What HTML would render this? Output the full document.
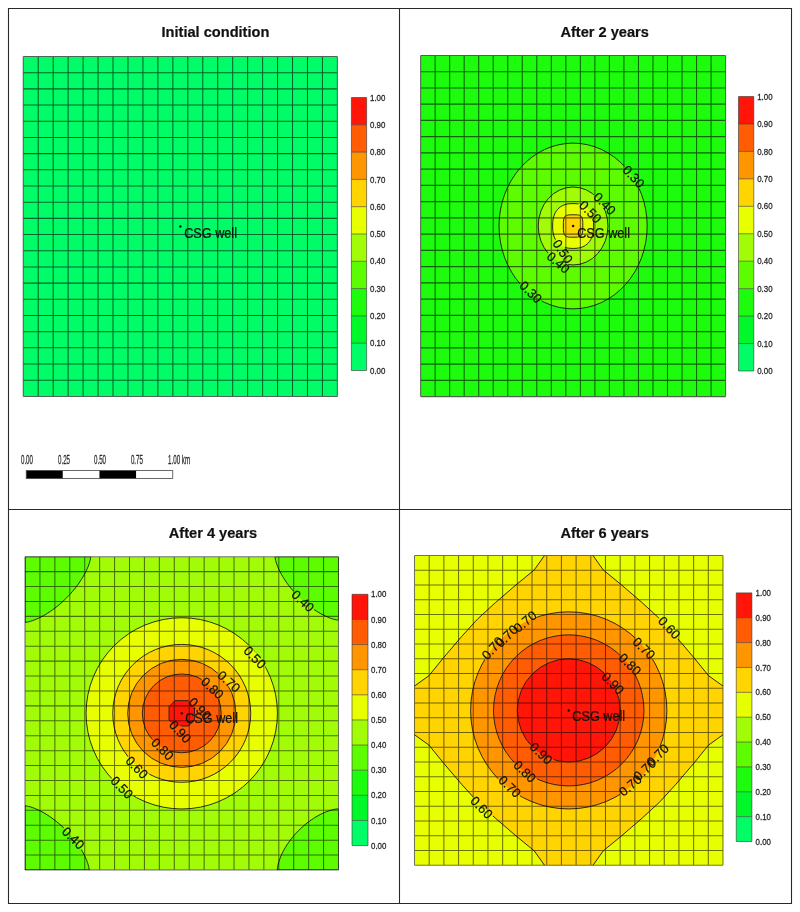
<!DOCTYPE html><html><head><meta charset="utf-8"><style>html,body{margin:0;padding:0;background:#fff;width:800px;height:912px;overflow:hidden}svg{display:block;will-change:transform}text{font-family:"Liberation Sans",sans-serif}</style></head><body>
<svg width="800" height="912" viewBox="0 0 800 912">
<rect width="800" height="912" fill="#fff"/>
<clipPath id="cla"><rect x="23.25" y="56.50" width="314.15" height="339.90"/></clipPath>
<mask id="mka" maskUnits="userSpaceOnUse" x="0" y="0" width="800" height="912"><rect x="0" y="0" width="800" height="912" fill="#fff"/></mask>
<g clip-path="url(#cla)">
<rect x="23.25" y="56.50" width="314.15" height="339.90" fill="#00FC66"/>
<g mask="url(#mka)" fill="none" stroke="#1a1a1a" stroke-width="1" stroke-opacity="0.9">
</g></g>
<path d="M23.25 56.50V396.40M38.21 56.50V396.40M53.17 56.50V396.40M68.13 56.50V396.40M83.09 56.50V396.40M98.05 56.50V396.40M113.01 56.50V396.40M127.97 56.50V396.40M142.93 56.50V396.40M157.89 56.50V396.40M172.85 56.50V396.40M187.80 56.50V396.40M202.76 56.50V396.40M217.72 56.50V396.40M232.68 56.50V396.40M247.64 56.50V396.40M262.60 56.50V396.40M277.56 56.50V396.40M292.52 56.50V396.40M307.48 56.50V396.40M322.44 56.50V396.40M337.40 56.50V396.40M23.25 56.50H337.40M23.25 72.69H337.40M23.25 88.87H337.40M23.25 105.06H337.40M23.25 121.24H337.40M23.25 137.43H337.40M23.25 153.61H337.40M23.25 169.80H337.40M23.25 185.99H337.40M23.25 202.17H337.40M23.25 218.36H337.40M23.25 234.54H337.40M23.25 250.73H337.40M23.25 266.91H337.40M23.25 283.10H337.40M23.25 299.29H337.40M23.25 315.47H337.40M23.25 331.66H337.40M23.25 347.84H337.40M23.25 364.03H337.40M23.25 380.21H337.40M23.25 396.40H337.40" stroke="#000" stroke-width="1.05" stroke-opacity="0.6" fill="none"/>
<circle cx="180.32" cy="226.45" r="1.25" fill="#111"/>
<text transform="translate(184.20 237.60) scale(0.88 1)" x="0" y="0" font-size="14.4" fill="#111" stroke="#111" stroke-width="0.2">CSG well</text>
<rect x="351.40" y="343.20" width="15.20" height="27.30" fill="#00FC66"/>
<rect x="351.40" y="315.90" width="15.20" height="27.30" fill="#00F82A"/>
<rect x="351.40" y="288.60" width="15.20" height="27.30" fill="#1CFC0C"/>
<rect x="351.40" y="261.30" width="15.20" height="27.30" fill="#5EFC00"/>
<rect x="351.40" y="234.00" width="15.20" height="27.30" fill="#A2FC08"/>
<rect x="351.40" y="206.70" width="15.20" height="27.30" fill="#E8FF00"/>
<rect x="351.40" y="179.40" width="15.20" height="27.30" fill="#FFD400"/>
<rect x="351.40" y="152.10" width="15.20" height="27.30" fill="#FF9600"/>
<rect x="351.40" y="124.80" width="15.20" height="27.30" fill="#FF5C04"/>
<rect x="351.40" y="97.50" width="15.20" height="27.30" fill="#FF1608"/>
<path d="M351.40 97.50H366.60M351.40 124.80H366.60M351.40 152.10H366.60M351.40 179.40H366.60M351.40 206.70H366.60M351.40 234.00H366.60M351.40 261.30H366.60M351.40 288.60H366.60M351.40 315.90H366.60M351.40 343.20H366.60M351.40 370.50H366.60M351.40 97.50V370.50M366.60 97.50V370.50" stroke="#333" stroke-width="0.9" fill="none" stroke-opacity="0.65"/>
<text transform="translate(370.00 100.60) scale(0.92 1)" x="0" y="0" font-size="8.6" fill="#262626" stroke="#262626" stroke-width="0.25">1.00</text>
<text transform="translate(370.00 127.90) scale(0.92 1)" x="0" y="0" font-size="8.6" fill="#262626" stroke="#262626" stroke-width="0.25">0.90</text>
<text transform="translate(370.00 155.20) scale(0.92 1)" x="0" y="0" font-size="8.6" fill="#262626" stroke="#262626" stroke-width="0.25">0.80</text>
<text transform="translate(370.00 182.50) scale(0.92 1)" x="0" y="0" font-size="8.6" fill="#262626" stroke="#262626" stroke-width="0.25">0.70</text>
<text transform="translate(370.00 209.80) scale(0.92 1)" x="0" y="0" font-size="8.6" fill="#262626" stroke="#262626" stroke-width="0.25">0.60</text>
<text transform="translate(370.00 237.10) scale(0.92 1)" x="0" y="0" font-size="8.6" fill="#262626" stroke="#262626" stroke-width="0.25">0.50</text>
<text transform="translate(370.00 264.40) scale(0.92 1)" x="0" y="0" font-size="8.6" fill="#262626" stroke="#262626" stroke-width="0.25">0.40</text>
<text transform="translate(370.00 291.70) scale(0.92 1)" x="0" y="0" font-size="8.6" fill="#262626" stroke="#262626" stroke-width="0.25">0.30</text>
<text transform="translate(370.00 319.00) scale(0.92 1)" x="0" y="0" font-size="8.6" fill="#262626" stroke="#262626" stroke-width="0.25">0.20</text>
<text transform="translate(370.00 346.30) scale(0.92 1)" x="0" y="0" font-size="8.6" fill="#262626" stroke="#262626" stroke-width="0.25">0.10</text>
<text transform="translate(370.00 373.60) scale(0.92 1)" x="0" y="0" font-size="8.6" fill="#262626" stroke="#262626" stroke-width="0.25">0.00</text>
<text x="215.45" y="36.90" font-size="14.6" font-weight="bold" text-anchor="middle" fill="#111" stroke="#111" stroke-width="0.2">Initial condition</text>
<rect x="26.25" y="470.6" width="36.6" height="7.9" fill="#000"/>
<rect x="62.85" y="470.6" width="36.6" height="7.9" fill="#fff"/>
<rect x="99.45" y="470.6" width="36.8" height="7.9" fill="#000"/>
<rect x="136.25" y="470.6" width="36.5" height="7.9" fill="#fff"/>
<rect x="26.25" y="470.6" width="146.5" height="7.9" fill="none" stroke="#444" stroke-width="0.8"/>
<text transform="translate(26.95 463.7) scale(0.49 1)" x="0" y="0" font-size="12.6" text-anchor="middle" fill="#2a2a2a" stroke="#2a2a2a" stroke-width="0.3">0.00</text>
<text transform="translate(64.0 463.7) scale(0.49 1)" x="0" y="0" font-size="12.6" text-anchor="middle" fill="#2a2a2a" stroke="#2a2a2a" stroke-width="0.3">0.25</text>
<text transform="translate(100.0 463.7) scale(0.49 1)" x="0" y="0" font-size="12.6" text-anchor="middle" fill="#2a2a2a" stroke="#2a2a2a" stroke-width="0.3">0.50</text>
<text transform="translate(136.9 463.7) scale(0.49 1)" x="0" y="0" font-size="12.6" text-anchor="middle" fill="#2a2a2a" stroke="#2a2a2a" stroke-width="0.3">0.75</text>
<text transform="translate(168.1 463.7) scale(0.49 1)" x="0" y="0" font-size="12.6" fill="#2a2a2a" stroke="#2a2a2a" stroke-width="0.3">1.00 km</text>
<clipPath id="clb"><rect x="420.60" y="55.40" width="305.00" height="341.20"/></clipPath>
<mask id="mkb" maskUnits="userSpaceOnUse" x="0" y="0" width="800" height="912"><rect x="0" y="0" width="800" height="912" fill="#fff"/><rect transform="translate(633.75 176.50) rotate(47)" x="-13.75" y="-4.03" width="27.50" height="8.06" fill="#000"/><rect transform="translate(604.80 203.50) rotate(45)" x="-13.75" y="-4.03" width="27.50" height="8.06" fill="#000"/><rect transform="translate(590.50 211.75) rotate(45)" x="-13.75" y="-4.03" width="27.50" height="8.06" fill="#000"/><rect transform="translate(562.90 251.40) rotate(57)" x="-13.75" y="-4.03" width="27.50" height="8.06" fill="#000"/><rect transform="translate(558.50 262.40) rotate(41)" x="-13.75" y="-4.03" width="27.50" height="8.06" fill="#000"/><rect transform="translate(530.80 291.90) rotate(44)" x="-13.75" y="-4.03" width="27.50" height="8.06" fill="#000"/></mask>
<g clip-path="url(#clb)">
<rect x="420.60" y="55.40" width="305.00" height="341.20" fill="#1CFC0C"/>
<ellipse cx="573.10" cy="226.00" rx="74.07" ry="82.86" fill="#5EFC00"/>
<ellipse cx="573.10" cy="226.00" rx="34.86" ry="38.99" fill="#A2FC08"/>
<polygon points="593.58,226.00 593.50,229.24 593.25,231.74 592.84,234.00 592.27,236.07 591.54,237.98 590.66,239.74 589.62,241.35 588.44,242.80 587.12,244.09 585.65,245.23 584.04,246.19 582.30,246.99 580.41,247.61 578.35,248.06 576.06,248.33 573.10,248.42 570.14,248.33 567.85,248.06 565.79,247.61 563.90,246.99 562.16,246.19 560.55,245.23 559.08,244.09 557.76,242.80 556.58,241.35 555.54,239.74 554.66,237.98 553.93,236.07 553.36,234.00 552.95,231.74 552.70,229.24 552.62,226.00 552.70,222.76 552.95,220.26 553.36,218.00 553.93,215.93 554.66,214.02 555.54,212.26 556.58,210.65 557.76,209.20 559.08,207.91 560.55,206.77 562.16,205.81 563.90,205.01 565.79,204.39 567.85,203.94 570.14,203.67 573.10,203.58 576.06,203.67 578.35,203.94 580.41,204.39 582.30,205.01 584.04,205.81 585.65,206.77 587.12,207.91 588.44,209.20 589.62,210.65 590.66,212.26 591.54,214.02 592.27,215.93 592.84,218.00 593.25,220.26 593.50,222.76" fill="#E8FF00"/>
<polygon points="582.83,226.00 582.81,229.51 582.74,230.95 582.62,232.04 582.45,232.94 582.24,233.70 581.97,234.36 581.66,234.93 581.28,235.43 580.85,235.86 580.35,236.22 579.78,236.53 579.12,236.78 578.34,236.97 577.40,237.10 576.15,237.18 573.10,237.21 570.05,237.18 568.80,237.10 567.86,236.97 567.08,236.78 566.42,236.53 565.85,236.22 565.35,235.86 564.92,235.43 564.54,234.93 564.23,234.36 563.96,233.70 563.75,232.94 563.58,232.04 563.46,230.95 563.39,229.51 563.37,226.00 563.39,222.49 563.46,221.05 563.58,219.96 563.75,219.06 563.96,218.30 564.23,217.64 564.54,217.07 564.92,216.57 565.35,216.14 565.85,215.78 566.42,215.47 567.08,215.22 567.86,215.03 568.80,214.90 570.05,214.82 573.10,214.79 576.15,214.82 577.40,214.90 578.34,215.03 579.12,215.22 579.78,215.47 580.35,215.78 580.85,216.14 581.28,216.57 581.66,217.07 581.97,217.64 582.24,218.30 582.45,219.06 582.62,219.96 582.74,221.05 582.81,222.49" fill="#FFD400"/>
<g mask="url(#mkb)" fill="none" stroke="#1a1a1a" stroke-width="1" stroke-opacity="0.9">
<ellipse cx="573.10" cy="226.00" rx="74.07" ry="82.86"/>
<ellipse cx="573.10" cy="226.00" rx="34.86" ry="38.99"/>
<polygon points="593.58,226.00 593.50,229.24 593.25,231.74 592.84,234.00 592.27,236.07 591.54,237.98 590.66,239.74 589.62,241.35 588.44,242.80 587.12,244.09 585.65,245.23 584.04,246.19 582.30,246.99 580.41,247.61 578.35,248.06 576.06,248.33 573.10,248.42 570.14,248.33 567.85,248.06 565.79,247.61 563.90,246.99 562.16,246.19 560.55,245.23 559.08,244.09 557.76,242.80 556.58,241.35 555.54,239.74 554.66,237.98 553.93,236.07 553.36,234.00 552.95,231.74 552.70,229.24 552.62,226.00 552.70,222.76 552.95,220.26 553.36,218.00 553.93,215.93 554.66,214.02 555.54,212.26 556.58,210.65 557.76,209.20 559.08,207.91 560.55,206.77 562.16,205.81 563.90,205.01 565.79,204.39 567.85,203.94 570.14,203.67 573.10,203.58 576.06,203.67 578.35,203.94 580.41,204.39 582.30,205.01 584.04,205.81 585.65,206.77 587.12,207.91 588.44,209.20 589.62,210.65 590.66,212.26 591.54,214.02 592.27,215.93 592.84,218.00 593.25,220.26 593.50,222.76"/>
<polygon points="582.83,226.00 582.81,229.51 582.74,230.95 582.62,232.04 582.45,232.94 582.24,233.70 581.97,234.36 581.66,234.93 581.28,235.43 580.85,235.86 580.35,236.22 579.78,236.53 579.12,236.78 578.34,236.97 577.40,237.10 576.15,237.18 573.10,237.21 570.05,237.18 568.80,237.10 567.86,236.97 567.08,236.78 566.42,236.53 565.85,236.22 565.35,235.86 564.92,235.43 564.54,234.93 564.23,234.36 563.96,233.70 563.75,232.94 563.58,232.04 563.46,230.95 563.39,229.51 563.37,226.00 563.39,222.49 563.46,221.05 563.58,219.96 563.75,219.06 563.96,218.30 564.23,217.64 564.54,217.07 564.92,216.57 565.35,216.14 565.85,215.78 566.42,215.47 567.08,215.22 567.86,215.03 568.80,214.90 570.05,214.82 573.10,214.79 576.15,214.82 577.40,214.90 578.34,215.03 579.12,215.22 579.78,215.47 580.35,215.78 580.85,216.14 581.28,216.57 581.66,217.07 581.97,217.64 582.24,218.30 582.45,219.06 582.62,219.96 582.74,221.05 582.81,222.49"/>
</g></g>
<path d="M420.60 55.40V396.60M435.12 55.40V396.60M449.65 55.40V396.60M464.17 55.40V396.60M478.70 55.40V396.60M493.22 55.40V396.60M507.74 55.40V396.60M522.27 55.40V396.60M536.79 55.40V396.60M551.31 55.40V396.60M565.84 55.40V396.60M580.36 55.40V396.60M594.89 55.40V396.60M609.41 55.40V396.60M623.93 55.40V396.60M638.46 55.40V396.60M652.98 55.40V396.60M667.50 55.40V396.60M682.03 55.40V396.60M696.55 55.40V396.60M711.08 55.40V396.60M725.60 55.40V396.60M420.60 55.40H725.60M420.60 71.65H725.60M420.60 87.90H725.60M420.60 104.14H725.60M420.60 120.39H725.60M420.60 136.64H725.60M420.60 152.89H725.60M420.60 169.13H725.60M420.60 185.38H725.60M420.60 201.63H725.60M420.60 217.88H725.60M420.60 234.12H725.60M420.60 250.37H725.60M420.60 266.62H725.60M420.60 282.87H725.60M420.60 299.11H725.60M420.60 315.36H725.60M420.60 331.61H725.60M420.60 347.86H725.60M420.60 364.10H725.60M420.60 380.35H725.60M420.60 396.60H725.60" stroke="#000" stroke-width="1.05" stroke-opacity="0.6" fill="none"/>
<text transform="translate(633.75 176.50) rotate(47)" x="0" y="4.68" font-size="13" text-anchor="middle" fill="#111" stroke="#111" stroke-width="0.2">0.30</text>
<text transform="translate(604.80 203.50) rotate(45)" x="0" y="4.68" font-size="13" text-anchor="middle" fill="#111" stroke="#111" stroke-width="0.2">0.40</text>
<text transform="translate(590.50 211.75) rotate(45)" x="0" y="4.68" font-size="13" text-anchor="middle" fill="#111" stroke="#111" stroke-width="0.2">0.50</text>
<text transform="translate(562.90 251.40) rotate(57)" x="0" y="4.68" font-size="13" text-anchor="middle" fill="#111" stroke="#111" stroke-width="0.2">0.50</text>
<text transform="translate(558.50 262.40) rotate(41)" x="0" y="4.68" font-size="13" text-anchor="middle" fill="#111" stroke="#111" stroke-width="0.2">0.40</text>
<text transform="translate(530.80 291.90) rotate(44)" x="0" y="4.68" font-size="13" text-anchor="middle" fill="#111" stroke="#111" stroke-width="0.2">0.30</text>
<circle cx="573.10" cy="226.00" r="1.25" fill="#111"/>
<text transform="translate(577.20 237.70) scale(0.88 1)" x="0" y="0" font-size="14.4" fill="#111" stroke="#111" stroke-width="0.2">CSG well</text>
<rect x="738.50" y="343.55" width="15.30" height="27.45" fill="#00FC66"/>
<rect x="738.50" y="316.10" width="15.30" height="27.45" fill="#00F82A"/>
<rect x="738.50" y="288.65" width="15.30" height="27.45" fill="#1CFC0C"/>
<rect x="738.50" y="261.20" width="15.30" height="27.45" fill="#5EFC00"/>
<rect x="738.50" y="233.75" width="15.30" height="27.45" fill="#A2FC08"/>
<rect x="738.50" y="206.30" width="15.30" height="27.45" fill="#E8FF00"/>
<rect x="738.50" y="178.85" width="15.30" height="27.45" fill="#FFD400"/>
<rect x="738.50" y="151.40" width="15.30" height="27.45" fill="#FF9600"/>
<rect x="738.50" y="123.95" width="15.30" height="27.45" fill="#FF5C04"/>
<rect x="738.50" y="96.50" width="15.30" height="27.45" fill="#FF1608"/>
<path d="M738.50 96.50H753.80M738.50 123.95H753.80M738.50 151.40H753.80M738.50 178.85H753.80M738.50 206.30H753.80M738.50 233.75H753.80M738.50 261.20H753.80M738.50 288.65H753.80M738.50 316.10H753.80M738.50 343.55H753.80M738.50 371.00H753.80M738.50 96.50V371.00M753.80 96.50V371.00" stroke="#333" stroke-width="0.9" fill="none" stroke-opacity="0.65"/>
<text transform="translate(757.20 99.60) scale(0.92 1)" x="0" y="0" font-size="8.6" fill="#262626" stroke="#262626" stroke-width="0.25">1.00</text>
<text transform="translate(757.20 127.05) scale(0.92 1)" x="0" y="0" font-size="8.6" fill="#262626" stroke="#262626" stroke-width="0.25">0.90</text>
<text transform="translate(757.20 154.50) scale(0.92 1)" x="0" y="0" font-size="8.6" fill="#262626" stroke="#262626" stroke-width="0.25">0.80</text>
<text transform="translate(757.20 181.95) scale(0.92 1)" x="0" y="0" font-size="8.6" fill="#262626" stroke="#262626" stroke-width="0.25">0.70</text>
<text transform="translate(757.20 209.40) scale(0.92 1)" x="0" y="0" font-size="8.6" fill="#262626" stroke="#262626" stroke-width="0.25">0.60</text>
<text transform="translate(757.20 236.85) scale(0.92 1)" x="0" y="0" font-size="8.6" fill="#262626" stroke="#262626" stroke-width="0.25">0.50</text>
<text transform="translate(757.20 264.30) scale(0.92 1)" x="0" y="0" font-size="8.6" fill="#262626" stroke="#262626" stroke-width="0.25">0.40</text>
<text transform="translate(757.20 291.75) scale(0.92 1)" x="0" y="0" font-size="8.6" fill="#262626" stroke="#262626" stroke-width="0.25">0.30</text>
<text transform="translate(757.20 319.20) scale(0.92 1)" x="0" y="0" font-size="8.6" fill="#262626" stroke="#262626" stroke-width="0.25">0.20</text>
<text transform="translate(757.20 346.65) scale(0.92 1)" x="0" y="0" font-size="8.6" fill="#262626" stroke="#262626" stroke-width="0.25">0.10</text>
<text transform="translate(757.20 374.10) scale(0.92 1)" x="0" y="0" font-size="8.6" fill="#262626" stroke="#262626" stroke-width="0.25">0.00</text>
<text x="604.70" y="36.90" font-size="14.6" font-weight="bold" text-anchor="middle" fill="#111" stroke="#111" stroke-width="0.2">After 2 years</text>
<clipPath id="clc"><rect x="25.00" y="556.70" width="313.50" height="313.30"/></clipPath>
<mask id="mkc" maskUnits="userSpaceOnUse" x="0" y="0" width="800" height="912"><rect x="0" y="0" width="800" height="912" fill="#fff"/><rect transform="translate(303.00 601.00) rotate(43)" x="-13.75" y="-4.03" width="27.50" height="8.06" fill="#000"/><rect transform="translate(255.00 657.40) rotate(46)" x="-13.75" y="-4.03" width="27.50" height="8.06" fill="#000"/><rect transform="translate(229.00 681.40) rotate(42)" x="-13.75" y="-4.03" width="27.50" height="8.06" fill="#000"/><rect transform="translate(212.50 688.00) rotate(43)" x="-13.75" y="-4.03" width="27.50" height="8.06" fill="#000"/><rect transform="translate(200.00 708.50) rotate(46)" x="-13.75" y="-4.03" width="27.50" height="8.06" fill="#000"/><rect transform="translate(180.25 731.50) rotate(47)" x="-13.75" y="-4.03" width="27.50" height="8.06" fill="#000"/><rect transform="translate(162.60 749.00) rotate(44)" x="-13.75" y="-4.03" width="27.50" height="8.06" fill="#000"/><rect transform="translate(137.00 767.40) rotate(46)" x="-13.75" y="-4.03" width="27.50" height="8.06" fill="#000"/><rect transform="translate(122.00 787.40) rotate(46)" x="-13.75" y="-4.03" width="27.50" height="8.06" fill="#000"/><rect transform="translate(73.40 838.00) rotate(44)" x="-13.75" y="-4.03" width="27.50" height="8.06" fill="#000"/></mask>
<g clip-path="url(#clc)">
<rect x="25.00" y="556.70" width="313.50" height="313.30" fill="#A2FC08"/>
<polygon points="25.00,556.70 90.69,556.70 90.62,557.58 90.42,558.90 90.08,560.48 89.61,562.23 89.01,564.13 88.28,566.14 87.42,568.24 86.43,570.41 85.33,572.65 84.11,574.94 82.77,577.26 81.32,579.60 79.76,581.96 78.11,584.33 76.36,586.68 74.52,589.02 72.59,591.34 70.59,593.62 68.52,595.86 66.38,598.05 64.19,600.19 61.94,602.26 59.66,604.26 57.34,606.18 55.00,608.02 52.64,609.77 50.28,611.43 47.92,612.98 45.57,614.43 43.25,615.77 40.96,616.99 38.72,618.10 36.54,619.08 34.44,619.94 32.43,620.67 30.54,621.27 28.78,621.74 27.21,622.07 25.88,622.28 25.00,622.34" fill="#5EFC00"/>
<polygon points="338.50,556.70 275.05,556.70 275.12,557.55 275.31,558.83 275.64,560.35 276.09,562.04 276.67,563.87 277.38,565.81 278.21,567.84 279.16,569.95 280.23,572.11 281.41,574.32 282.70,576.56 284.10,578.82 285.60,581.10 287.20,583.38 288.89,585.66 290.67,587.92 292.53,590.16 294.46,592.36 296.47,594.53 298.53,596.64 300.65,598.71 302.82,600.71 305.02,602.64 307.26,604.50 309.52,606.27 311.80,607.96 314.08,609.56 316.36,611.06 318.63,612.46 320.87,613.75 323.08,614.94 325.24,616.00 327.35,616.95 329.38,617.78 331.32,618.49 333.15,619.07 334.85,619.52 336.37,619.85 337.65,620.04 338.50,620.11" fill="#5EFC00"/>
<polygon points="25.00,870.00 89.19,870.00 89.13,869.14 88.93,867.85 88.60,866.31 88.14,864.59 87.55,862.74 86.84,860.78 86.00,858.73 85.04,856.60 83.96,854.41 82.76,852.18 81.45,849.91 80.04,847.62 78.52,845.31 76.90,843.00 75.19,840.70 73.39,838.41 71.51,836.15 69.55,833.92 67.53,831.73 65.44,829.59 63.30,827.50 61.10,825.48 58.87,823.52 56.61,821.64 54.32,819.84 52.01,818.13 49.70,816.52 47.40,815.00 45.10,813.58 42.83,812.28 40.60,811.08 38.41,810.00 36.28,809.04 34.23,808.20 32.26,807.49 30.41,806.90 28.70,806.44 27.16,806.11 25.86,805.91 25.00,805.85" fill="#5EFC00"/>
<polygon points="338.50,870.00 277.29,870.00 277.35,868.93 277.53,867.46 277.82,865.79 278.23,863.98 278.76,862.07 279.40,860.07 280.15,858.02 281.01,855.91 281.98,853.76 283.06,851.59 284.24,849.40 285.51,847.21 286.89,845.01 288.35,842.83 289.90,840.66 291.54,838.52 293.25,836.41 295.04,834.34 296.89,832.31 298.81,830.34 300.79,828.42 302.82,826.57 304.89,824.78 307.00,823.07 309.14,821.43 311.31,819.88 313.50,818.42 315.69,817.05 317.89,815.77 320.08,814.60 322.25,813.52 324.40,812.55 326.51,811.69 328.57,810.94 330.56,810.30 332.48,809.77 334.29,809.36 335.96,809.07 337.43,808.89 338.50,808.83" fill="#5EFC00"/>
<ellipse cx="181.75" cy="713.35" rx="95.69" ry="95.63" fill="#E8FF00"/>
<ellipse cx="181.75" cy="713.35" rx="68.97" ry="68.93" fill="#FFD400"/>
<ellipse cx="181.75" cy="713.35" rx="54.04" ry="54.01" fill="#FF9600"/>
<ellipse cx="181.75" cy="713.35" rx="39.41" ry="39.39" fill="#FF5C04"/>
<polygon points="175.03,700.67 188.47,700.67 194.44,706.64 194.44,720.06 188.47,726.03 175.03,726.03 169.06,720.06 169.06,706.64" fill="#FF1608"/>
<g mask="url(#mkc)" fill="none" stroke="#1a1a1a" stroke-width="1" stroke-opacity="0.9">
<polygon points="25.00,556.70 90.69,556.70 90.62,557.58 90.42,558.90 90.08,560.48 89.61,562.23 89.01,564.13 88.28,566.14 87.42,568.24 86.43,570.41 85.33,572.65 84.11,574.94 82.77,577.26 81.32,579.60 79.76,581.96 78.11,584.33 76.36,586.68 74.52,589.02 72.59,591.34 70.59,593.62 68.52,595.86 66.38,598.05 64.19,600.19 61.94,602.26 59.66,604.26 57.34,606.18 55.00,608.02 52.64,609.77 50.28,611.43 47.92,612.98 45.57,614.43 43.25,615.77 40.96,616.99 38.72,618.10 36.54,619.08 34.44,619.94 32.43,620.67 30.54,621.27 28.78,621.74 27.21,622.07 25.88,622.28 25.00,622.34"/>
<polygon points="338.50,556.70 275.05,556.70 275.12,557.55 275.31,558.83 275.64,560.35 276.09,562.04 276.67,563.87 277.38,565.81 278.21,567.84 279.16,569.95 280.23,572.11 281.41,574.32 282.70,576.56 284.10,578.82 285.60,581.10 287.20,583.38 288.89,585.66 290.67,587.92 292.53,590.16 294.46,592.36 296.47,594.53 298.53,596.64 300.65,598.71 302.82,600.71 305.02,602.64 307.26,604.50 309.52,606.27 311.80,607.96 314.08,609.56 316.36,611.06 318.63,612.46 320.87,613.75 323.08,614.94 325.24,616.00 327.35,616.95 329.38,617.78 331.32,618.49 333.15,619.07 334.85,619.52 336.37,619.85 337.65,620.04 338.50,620.11"/>
<polygon points="25.00,870.00 89.19,870.00 89.13,869.14 88.93,867.85 88.60,866.31 88.14,864.59 87.55,862.74 86.84,860.78 86.00,858.73 85.04,856.60 83.96,854.41 82.76,852.18 81.45,849.91 80.04,847.62 78.52,845.31 76.90,843.00 75.19,840.70 73.39,838.41 71.51,836.15 69.55,833.92 67.53,831.73 65.44,829.59 63.30,827.50 61.10,825.48 58.87,823.52 56.61,821.64 54.32,819.84 52.01,818.13 49.70,816.52 47.40,815.00 45.10,813.58 42.83,812.28 40.60,811.08 38.41,810.00 36.28,809.04 34.23,808.20 32.26,807.49 30.41,806.90 28.70,806.44 27.16,806.11 25.86,805.91 25.00,805.85"/>
<polygon points="338.50,870.00 277.29,870.00 277.35,868.93 277.53,867.46 277.82,865.79 278.23,863.98 278.76,862.07 279.40,860.07 280.15,858.02 281.01,855.91 281.98,853.76 283.06,851.59 284.24,849.40 285.51,847.21 286.89,845.01 288.35,842.83 289.90,840.66 291.54,838.52 293.25,836.41 295.04,834.34 296.89,832.31 298.81,830.34 300.79,828.42 302.82,826.57 304.89,824.78 307.00,823.07 309.14,821.43 311.31,819.88 313.50,818.42 315.69,817.05 317.89,815.77 320.08,814.60 322.25,813.52 324.40,812.55 326.51,811.69 328.57,810.94 330.56,810.30 332.48,809.77 334.29,809.36 335.96,809.07 337.43,808.89 338.50,808.83"/>
<ellipse cx="181.75" cy="713.35" rx="95.69" ry="95.63"/>
<ellipse cx="181.75" cy="713.35" rx="68.97" ry="68.93"/>
<ellipse cx="181.75" cy="713.35" rx="54.04" ry="54.01"/>
<ellipse cx="181.75" cy="713.35" rx="39.41" ry="39.39"/>
<polygon points="175.03,700.67 188.47,700.67 194.44,706.64 194.44,720.06 188.47,726.03 175.03,726.03 169.06,720.06 169.06,706.64"/>
</g></g>
<path d="M25.00 556.70V870.00M39.93 556.70V870.00M54.86 556.70V870.00M69.79 556.70V870.00M84.71 556.70V870.00M99.64 556.70V870.00M114.57 556.70V870.00M129.50 556.70V870.00M144.43 556.70V870.00M159.36 556.70V870.00M174.29 556.70V870.00M189.21 556.70V870.00M204.14 556.70V870.00M219.07 556.70V870.00M234.00 556.70V870.00M248.93 556.70V870.00M263.86 556.70V870.00M278.79 556.70V870.00M293.71 556.70V870.00M308.64 556.70V870.00M323.57 556.70V870.00M338.50 556.70V870.00M25.00 556.70H338.50M25.00 571.62H338.50M25.00 586.54H338.50M25.00 601.46H338.50M25.00 616.38H338.50M25.00 631.30H338.50M25.00 646.21H338.50M25.00 661.13H338.50M25.00 676.05H338.50M25.00 690.97H338.50M25.00 705.89H338.50M25.00 720.81H338.50M25.00 735.73H338.50M25.00 750.65H338.50M25.00 765.57H338.50M25.00 780.49H338.50M25.00 795.40H338.50M25.00 810.32H338.50M25.00 825.24H338.50M25.00 840.16H338.50M25.00 855.08H338.50M25.00 870.00H338.50" stroke="#000" stroke-width="1.05" stroke-opacity="0.55" fill="none"/>
<text transform="translate(303.00 601.00) rotate(43)" x="0" y="4.68" font-size="13" text-anchor="middle" fill="#111" stroke="#111" stroke-width="0.2">0.40</text>
<text transform="translate(255.00 657.40) rotate(46)" x="0" y="4.68" font-size="13" text-anchor="middle" fill="#111" stroke="#111" stroke-width="0.2">0.50</text>
<text transform="translate(229.00 681.40) rotate(42)" x="0" y="4.68" font-size="13" text-anchor="middle" fill="#111" stroke="#111" stroke-width="0.2">0.70</text>
<text transform="translate(212.50 688.00) rotate(43)" x="0" y="4.68" font-size="13" text-anchor="middle" fill="#111" stroke="#111" stroke-width="0.2">0.80</text>
<text transform="translate(200.00 708.50) rotate(46)" x="0" y="4.68" font-size="13" text-anchor="middle" fill="#111" stroke="#111" stroke-width="0.2">0.90</text>
<text transform="translate(180.25 731.50) rotate(47)" x="0" y="4.68" font-size="13" text-anchor="middle" fill="#111" stroke="#111" stroke-width="0.2">0.90</text>
<text transform="translate(162.60 749.00) rotate(44)" x="0" y="4.68" font-size="13" text-anchor="middle" fill="#111" stroke="#111" stroke-width="0.2">0.80</text>
<text transform="translate(137.00 767.40) rotate(46)" x="0" y="4.68" font-size="13" text-anchor="middle" fill="#111" stroke="#111" stroke-width="0.2">0.60</text>
<text transform="translate(122.00 787.40) rotate(46)" x="0" y="4.68" font-size="13" text-anchor="middle" fill="#111" stroke="#111" stroke-width="0.2">0.50</text>
<text transform="translate(73.40 838.00) rotate(44)" x="0" y="4.68" font-size="13" text-anchor="middle" fill="#111" stroke="#111" stroke-width="0.2">0.40</text>
<circle cx="181.75" cy="713.35" r="1.25" fill="#111"/>
<text transform="translate(185.20 722.80) scale(0.88 1)" x="0" y="0" font-size="14.4" fill="#111" stroke="#111" stroke-width="0.2">CSG well</text>
<rect x="352.00" y="820.47" width="16.00" height="25.13" fill="#00FC66"/>
<rect x="352.00" y="795.34" width="16.00" height="25.13" fill="#00F82A"/>
<rect x="352.00" y="770.21" width="16.00" height="25.13" fill="#1CFC0C"/>
<rect x="352.00" y="745.08" width="16.00" height="25.13" fill="#5EFC00"/>
<rect x="352.00" y="719.95" width="16.00" height="25.13" fill="#A2FC08"/>
<rect x="352.00" y="694.82" width="16.00" height="25.13" fill="#E8FF00"/>
<rect x="352.00" y="669.69" width="16.00" height="25.13" fill="#FFD400"/>
<rect x="352.00" y="644.56" width="16.00" height="25.13" fill="#FF9600"/>
<rect x="352.00" y="619.43" width="16.00" height="25.13" fill="#FF5C04"/>
<rect x="352.00" y="594.30" width="16.00" height="25.13" fill="#FF1608"/>
<path d="M352.00 594.30H368.00M352.00 619.43H368.00M352.00 644.56H368.00M352.00 669.69H368.00M352.00 694.82H368.00M352.00 719.95H368.00M352.00 745.08H368.00M352.00 770.21H368.00M352.00 795.34H368.00M352.00 820.47H368.00M352.00 845.60H368.00M352.00 594.30V845.60M368.00 594.30V845.60" stroke="#333" stroke-width="0.9" fill="none" stroke-opacity="0.65"/>
<text transform="translate(371.00 597.40) scale(0.92 1)" x="0" y="0" font-size="8.6" fill="#262626" stroke="#262626" stroke-width="0.25">1.00</text>
<text transform="translate(371.00 622.53) scale(0.92 1)" x="0" y="0" font-size="8.6" fill="#262626" stroke="#262626" stroke-width="0.25">0.90</text>
<text transform="translate(371.00 647.66) scale(0.92 1)" x="0" y="0" font-size="8.6" fill="#262626" stroke="#262626" stroke-width="0.25">0.80</text>
<text transform="translate(371.00 672.79) scale(0.92 1)" x="0" y="0" font-size="8.6" fill="#262626" stroke="#262626" stroke-width="0.25">0.70</text>
<text transform="translate(371.00 697.92) scale(0.92 1)" x="0" y="0" font-size="8.6" fill="#262626" stroke="#262626" stroke-width="0.25">0.60</text>
<text transform="translate(371.00 723.05) scale(0.92 1)" x="0" y="0" font-size="8.6" fill="#262626" stroke="#262626" stroke-width="0.25">0.50</text>
<text transform="translate(371.00 748.18) scale(0.92 1)" x="0" y="0" font-size="8.6" fill="#262626" stroke="#262626" stroke-width="0.25">0.40</text>
<text transform="translate(371.00 773.31) scale(0.92 1)" x="0" y="0" font-size="8.6" fill="#262626" stroke="#262626" stroke-width="0.25">0.30</text>
<text transform="translate(371.00 798.44) scale(0.92 1)" x="0" y="0" font-size="8.6" fill="#262626" stroke="#262626" stroke-width="0.25">0.20</text>
<text transform="translate(371.00 823.57) scale(0.92 1)" x="0" y="0" font-size="8.6" fill="#262626" stroke="#262626" stroke-width="0.25">0.10</text>
<text transform="translate(371.00 848.70) scale(0.92 1)" x="0" y="0" font-size="8.6" fill="#262626" stroke="#262626" stroke-width="0.25">0.00</text>
<text x="213.00" y="538.30" font-size="14.6" font-weight="bold" text-anchor="middle" fill="#111" stroke="#111" stroke-width="0.2">After 4 years</text>
<clipPath id="cld"><rect x="414.50" y="555.50" width="308.50" height="309.80"/></clipPath>
<mask id="mkd" maskUnits="userSpaceOnUse" x="0" y="0" width="800" height="912"><rect x="0" y="0" width="800" height="912" fill="#fff"/><rect transform="translate(669.40 627.60) rotate(47)" x="-13.75" y="-4.03" width="27.50" height="8.06" fill="#000"/><rect transform="translate(644.00 648.20) rotate(44)" x="-13.75" y="-4.03" width="27.50" height="8.06" fill="#000"/><rect transform="translate(630.10 664.10) rotate(44)" x="-13.75" y="-4.03" width="27.50" height="8.06" fill="#000"/><rect transform="translate(613.10 683.20) rotate(45)" x="-13.75" y="-4.03" width="27.50" height="8.06" fill="#000"/><rect transform="translate(492.50 648.00) rotate(-48)" x="-13.75" y="-4.03" width="27.50" height="8.06" fill="#000"/><rect transform="translate(506.50 636.00) rotate(-44)" x="-13.75" y="-4.03" width="27.50" height="8.06" fill="#000"/><rect transform="translate(525.00 621.50) rotate(-40)" x="-13.75" y="-4.03" width="27.50" height="8.06" fill="#000"/><rect transform="translate(630.20 785.30) rotate(-40)" x="-13.75" y="-4.03" width="27.50" height="8.06" fill="#000"/><rect transform="translate(644.60 769.50) rotate(-43)" x="-13.75" y="-4.03" width="27.50" height="8.06" fill="#000"/><rect transform="translate(657.70 755.00) rotate(-45)" x="-13.75" y="-4.03" width="27.50" height="8.06" fill="#000"/><rect transform="translate(541.30 753.30) rotate(43)" x="-13.75" y="-4.03" width="27.50" height="8.06" fill="#000"/><rect transform="translate(524.80 771.30) rotate(44)" x="-13.75" y="-4.03" width="27.50" height="8.06" fill="#000"/><rect transform="translate(509.80 786.30) rotate(44)" x="-13.75" y="-4.03" width="27.50" height="8.06" fill="#000"/><rect transform="translate(481.75 807.30) rotate(46)" x="-13.75" y="-4.03" width="27.50" height="8.06" fill="#000"/></mask>
<g clip-path="url(#cld)">
<rect x="414.50" y="555.50" width="308.50" height="309.80" fill="#E8FF00"/>
<polygon points="592.99,554.02 592.99,555.50 603.27,569.96 621.64,585.00 642.20,602.71 659.83,618.94 675.99,636.64 693.62,657.29 708.60,675.73 723.00,686.06 724.47,686.06 724.47,734.74 723.00,734.74 708.60,745.07 693.62,763.51 675.99,784.16 659.83,801.86 642.20,818.09 621.64,835.80 603.27,850.84 592.99,865.30 592.99,866.78 544.51,866.78 544.51,865.30 534.23,850.84 515.86,835.80 495.30,818.09 477.67,801.86 461.51,784.16 443.88,763.51 428.90,745.07 414.50,734.74 413.03,734.74 413.03,686.06 414.50,686.06 428.90,675.73 443.88,657.29 461.51,636.64 477.67,618.94 495.30,602.71 515.86,585.00 534.23,569.96 544.51,555.50 544.51,554.02" fill="#FFD400"/>
<ellipse cx="568.75" cy="710.40" rx="98.13" ry="98.55" fill="#FF9600"/>
<ellipse cx="568.75" cy="710.40" rx="75.22" ry="75.53" fill="#FF5C04"/>
<ellipse cx="568.75" cy="710.40" rx="51.42" ry="51.63" fill="#FF1608"/>
<g mask="url(#mkd)" fill="none" stroke="#1a1a1a" stroke-width="1" stroke-opacity="0.9">
<polygon points="592.99,554.02 592.99,555.50 603.27,569.96 621.64,585.00 642.20,602.71 659.83,618.94 675.99,636.64 693.62,657.29 708.60,675.73 723.00,686.06 724.47,686.06 724.47,734.74 723.00,734.74 708.60,745.07 693.62,763.51 675.99,784.16 659.83,801.86 642.20,818.09 621.64,835.80 603.27,850.84 592.99,865.30 592.99,866.78 544.51,866.78 544.51,865.30 534.23,850.84 515.86,835.80 495.30,818.09 477.67,801.86 461.51,784.16 443.88,763.51 428.90,745.07 414.50,734.74 413.03,734.74 413.03,686.06 414.50,686.06 428.90,675.73 443.88,657.29 461.51,636.64 477.67,618.94 495.30,602.71 515.86,585.00 534.23,569.96 544.51,555.50 544.51,554.02"/>
<ellipse cx="568.75" cy="710.40" rx="98.13" ry="98.55"/>
<ellipse cx="568.75" cy="710.40" rx="75.22" ry="75.53"/>
<ellipse cx="568.75" cy="710.40" rx="51.42" ry="51.63"/>
</g></g>
<path d="M414.50 555.50V865.30M429.19 555.50V865.30M443.88 555.50V865.30M458.57 555.50V865.30M473.26 555.50V865.30M487.95 555.50V865.30M502.64 555.50V865.30M517.33 555.50V865.30M532.02 555.50V865.30M546.71 555.50V865.30M561.40 555.50V865.30M576.10 555.50V865.30M590.79 555.50V865.30M605.48 555.50V865.30M620.17 555.50V865.30M634.86 555.50V865.30M649.55 555.50V865.30M664.24 555.50V865.30M678.93 555.50V865.30M693.62 555.50V865.30M708.31 555.50V865.30M723.00 555.50V865.30M414.50 555.50H723.00M414.50 570.25H723.00M414.50 585.00H723.00M414.50 599.76H723.00M414.50 614.51H723.00M414.50 629.26H723.00M414.50 644.01H723.00M414.50 658.77H723.00M414.50 673.52H723.00M414.50 688.27H723.00M414.50 703.02H723.00M414.50 717.78H723.00M414.50 732.53H723.00M414.50 747.28H723.00M414.50 762.03H723.00M414.50 776.79H723.00M414.50 791.54H723.00M414.50 806.29H723.00M414.50 821.04H723.00M414.50 835.80H723.00M414.50 850.55H723.00M414.50 865.30H723.00" stroke="#000" stroke-width="1.05" stroke-opacity="0.55" fill="none"/>
<text transform="translate(669.40 627.60) rotate(47)" x="0" y="4.68" font-size="13" text-anchor="middle" fill="#111" stroke="#111" stroke-width="0.2">0.60</text>
<text transform="translate(644.00 648.20) rotate(44)" x="0" y="4.68" font-size="13" text-anchor="middle" fill="#111" stroke="#111" stroke-width="0.2">0.70</text>
<text transform="translate(630.10 664.10) rotate(44)" x="0" y="4.68" font-size="13" text-anchor="middle" fill="#111" stroke="#111" stroke-width="0.2">0.80</text>
<text transform="translate(613.10 683.20) rotate(45)" x="0" y="4.68" font-size="13" text-anchor="middle" fill="#111" stroke="#111" stroke-width="0.2">0.90</text>
<text transform="translate(492.50 648.00) rotate(-48)" x="0" y="4.68" font-size="13" text-anchor="middle" fill="#111" stroke="#111" stroke-width="0.2">0.70</text>
<text transform="translate(506.50 636.00) rotate(-44)" x="0" y="4.68" font-size="13" text-anchor="middle" fill="#111" stroke="#111" stroke-width="0.2">0.70</text>
<text transform="translate(525.00 621.50) rotate(-40)" x="0" y="4.68" font-size="13" text-anchor="middle" fill="#111" stroke="#111" stroke-width="0.2">0.70</text>
<text transform="translate(630.20 785.30) rotate(-40)" x="0" y="4.68" font-size="13" text-anchor="middle" fill="#111" stroke="#111" stroke-width="0.2">0.70</text>
<text transform="translate(644.60 769.50) rotate(-43)" x="0" y="4.68" font-size="13" text-anchor="middle" fill="#111" stroke="#111" stroke-width="0.2">0.70</text>
<text transform="translate(657.70 755.00) rotate(-45)" x="0" y="4.68" font-size="13" text-anchor="middle" fill="#111" stroke="#111" stroke-width="0.2">0.70</text>
<text transform="translate(541.30 753.30) rotate(43)" x="0" y="4.68" font-size="13" text-anchor="middle" fill="#111" stroke="#111" stroke-width="0.2">0.90</text>
<text transform="translate(524.80 771.30) rotate(44)" x="0" y="4.68" font-size="13" text-anchor="middle" fill="#111" stroke="#111" stroke-width="0.2">0.80</text>
<text transform="translate(509.80 786.30) rotate(44)" x="0" y="4.68" font-size="13" text-anchor="middle" fill="#111" stroke="#111" stroke-width="0.2">0.70</text>
<text transform="translate(481.75 807.30) rotate(46)" x="0" y="4.68" font-size="13" text-anchor="middle" fill="#111" stroke="#111" stroke-width="0.2">0.60</text>
<circle cx="568.75" cy="710.40" r="1.25" fill="#111"/>
<text transform="translate(572.30 720.50) scale(0.88 1)" x="0" y="0" font-size="14.4" fill="#111" stroke="#111" stroke-width="0.2">CSG well</text>
<rect x="736.25" y="816.64" width="15.65" height="24.86" fill="#00FC66"/>
<rect x="736.25" y="791.78" width="15.65" height="24.86" fill="#00F82A"/>
<rect x="736.25" y="766.92" width="15.65" height="24.86" fill="#1CFC0C"/>
<rect x="736.25" y="742.06" width="15.65" height="24.86" fill="#5EFC00"/>
<rect x="736.25" y="717.20" width="15.65" height="24.86" fill="#A2FC08"/>
<rect x="736.25" y="692.34" width="15.65" height="24.86" fill="#E8FF00"/>
<rect x="736.25" y="667.48" width="15.65" height="24.86" fill="#FFD400"/>
<rect x="736.25" y="642.62" width="15.65" height="24.86" fill="#FF9600"/>
<rect x="736.25" y="617.76" width="15.65" height="24.86" fill="#FF5C04"/>
<rect x="736.25" y="592.90" width="15.65" height="24.86" fill="#FF1608"/>
<path d="M736.25 592.90H751.90M736.25 617.76H751.90M736.25 642.62H751.90M736.25 667.48H751.90M736.25 692.34H751.90M736.25 717.20H751.90M736.25 742.06H751.90M736.25 766.92H751.90M736.25 791.78H751.90M736.25 816.64H751.90M736.25 841.50H751.90M736.25 592.90V841.50M751.90 592.90V841.50" stroke="#333" stroke-width="0.9" fill="none" stroke-opacity="0.65"/>
<text transform="translate(755.60 596.00) scale(0.92 1)" x="0" y="0" font-size="8.6" fill="#262626" stroke="#262626" stroke-width="0.25">1.00</text>
<text transform="translate(755.60 620.86) scale(0.92 1)" x="0" y="0" font-size="8.6" fill="#262626" stroke="#262626" stroke-width="0.25">0.90</text>
<text transform="translate(755.60 645.72) scale(0.92 1)" x="0" y="0" font-size="8.6" fill="#262626" stroke="#262626" stroke-width="0.25">0.80</text>
<text transform="translate(755.60 670.58) scale(0.92 1)" x="0" y="0" font-size="8.6" fill="#262626" stroke="#262626" stroke-width="0.25">0.70</text>
<text transform="translate(755.60 695.44) scale(0.92 1)" x="0" y="0" font-size="8.6" fill="#262626" stroke="#262626" stroke-width="0.25">0.60</text>
<text transform="translate(755.60 720.30) scale(0.92 1)" x="0" y="0" font-size="8.6" fill="#262626" stroke="#262626" stroke-width="0.25">0.50</text>
<text transform="translate(755.60 745.16) scale(0.92 1)" x="0" y="0" font-size="8.6" fill="#262626" stroke="#262626" stroke-width="0.25">0.40</text>
<text transform="translate(755.60 770.02) scale(0.92 1)" x="0" y="0" font-size="8.6" fill="#262626" stroke="#262626" stroke-width="0.25">0.30</text>
<text transform="translate(755.60 794.88) scale(0.92 1)" x="0" y="0" font-size="8.6" fill="#262626" stroke="#262626" stroke-width="0.25">0.20</text>
<text transform="translate(755.60 819.74) scale(0.92 1)" x="0" y="0" font-size="8.6" fill="#262626" stroke="#262626" stroke-width="0.25">0.10</text>
<text transform="translate(755.60 844.60) scale(0.92 1)" x="0" y="0" font-size="8.6" fill="#262626" stroke="#262626" stroke-width="0.25">0.00</text>
<text x="604.70" y="538.30" font-size="14.6" font-weight="bold" text-anchor="middle" fill="#111" stroke="#111" stroke-width="0.2">After 6 years</text>
<path d="M8.5 8.5H791.5V903.5H8.5ZM399.5 8.5V903.5M8.5 509.5H791.5" fill="none" stroke="#2a2a2a" stroke-width="1.1"/>
</svg></body></html>
